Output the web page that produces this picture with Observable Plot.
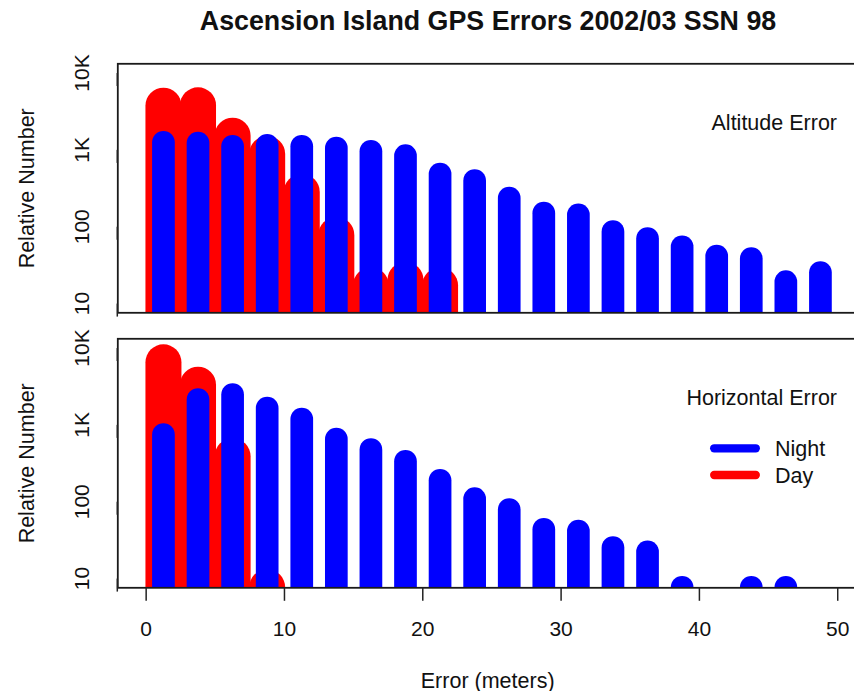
<!DOCTYPE html>
<html>
<head>
<meta charset="utf-8">
<script src="https://cdn.jsdelivr.net/npm/d3@7"></script>
<script src="https://cdn.jsdelivr.net/npm/@observablehq/plot@0.6"></script>
<style>
  html, body { margin: 0; padding: 0; background: #fff; }
  #chart {
    position: relative; width: 854px; height: 691px; overflow: hidden;
    font-family: "Liberation Sans", Arial, Helvetica, sans-serif; color: #111;
  }
  #chart svg { max-width: none !important; }
  .panel { position: absolute; left: 0; }
  #title {
    position: absolute; left: 0; width: 976px; top: 8px; text-align: center;
    font-weight: bold; font-size: 26.8px; line-height: 26.8px; white-space: nowrap;
  }
  #legend { position: absolute; left: 700px; top: 430px; }
</style>
</head>
<body>
<div id="chart"></div>
<script>
// Error bins (meters): centre of each 2.5 m bin
const binCenters = [1.25, 3.75, 6.25, 8.75, 11.25, 13.75, 16.25, 18.75, 21.25, 23.75,
                    26.25, 28.75, 31.25, 33.75, 36.25, 38.75, 41.25, 43.75, 46.25, 48.75];

// Relative number of fixes per bin (0 = empty bin)
const altitudeNight   = [1234, 1209, 1095, 1128, 1095, 1040, 943, 828, 477, 392,
                         233, 148, 141, 85, 69, 54, 41, 38, 19, 25];
const altitudeDay     = [3700, 3750, 1507, 871, 279, 77, 17, 20, 17, 0,
                         0, 0, 0, 0, 0, 0, 0, 0, 0, 0];
const horizontalNight = [735, 2098, 2437, 1632, 1173, 644, 469, 330, 187, 108,
                         78, 43, 41, 25, 22, 5, 0, 5, 5, 0];
const horizontalDay   = [6423, 3283, 384, 5, 0, 0, 0, 0, 0, 0,
                         0, 0, 0, 0, 0, 0, 0, 0, 0, 0];

const xTicks = [0, 10, 20, 30, 40, 50];
const yTicks = [10, 100, 1000, 10000];
const yTickLabels = ["10", "100", "1K", "10K"];

const seriesNames = ["Night", "Day"];
const seriesColors = ["#0000ff", "#ff0000"];

const FONT = '"Liberation Sans", Arial, Helvetica, sans-serif';
const xDomain = [-2.05, 51.43];
const yDomain = [Math.pow(10, 0.88), Math.pow(10, 4.12)];

function rows(values) {
  return binCenters.map((x, i) => ({x, value: values[i]})).filter(d => d.value > 0);
}

function panel({night, day, label, showX, height, marginTop, marginBottom}) {
  const marks = [
    // day bars (wider, underneath), then night bars on top; drawn up from the panel floor
    Plot.ruleX(rows(day), {x: "x", y1: yDomain[0], y2: "value", stroke: seriesColors[1],
      strokeWidth: 36, strokeLinecap: "round", clip: true}),
    Plot.ruleX(rows(night), {x: "x", y1: yDomain[0], y2: "value", stroke: seriesColors[0],
      strokeWidth: 22.7, strokeLinecap: "round", clip: true}),
    Plot.frame({stroke: "#1a1a1a", strokeWidth: 1.8}),
    Plot.axisY(yTicks, {
      tickSize: 13, tickPadding: 16, strokeWidth: 1.5, stroke: "#222",
      tickFormat: d => yTickLabels[yTicks.indexOf(d)],
      rotate: -90, textAnchor: "middle", lineAnchor: "bottom",
      fontSize: 21, label: null
    }),
    Plot.text([label], {frameAnchor: "top-right", dx: -20.5, dy: 65.7,
      textAnchor: "end", lineAnchor: "bottom", fontSize: 21.5, fill: "#111"}),
    Plot.text(["Relative Number"], {frameAnchor: "left", dx: -84, rotate: -90,
      textAnchor: "middle", lineAnchor: "bottom", fontSize: 21.5, fill: "#111"})
  ];
  if (showX) {
    marks.push(
      Plot.axisX(xTicks, {tickSize: 13.5, tickPadding: 19.5, strokeWidth: 1.5, stroke: "#222",
        fontSize: 21, label: null}),
      Plot.text(["Error (meters)"], {frameAnchor: "bottom", dy: 99.7, lineAnchor: "bottom",
        fontSize: 21.5, fill: "#111"})
    );
  }
  return Plot.plot({
    width: 870, height, marginLeft: 117.3, marginRight: 13, marginTop, marginBottom,
    x: {domain: xDomain, label: null, axis: showX ? undefined : null},
    y: {type: "log", domain: yDomain, label: null},
    style: {background: "none", fontFamily: FONT, fontSize: "21px", color: "#111", overflow: "visible"},
    marks
  });
}

const chart = document.getElementById("chart");

const altitudePanel = panel({night: altitudeNight, day: altitudeDay, label: "Altitude Error",
  showX: false, height: 320, marginTop: 63.3, marginBottom: 7.7});
altitudePanel.classList.add("panel"); altitudePanel.style.top = "0px";
chart.appendChild(altitudePanel);

const horizontalPanel = panel({night: horizontalNight, day: horizontalDay, label: "Horizontal Error",
  showX: true, height: 371, marginTop: 18.3, marginBottom: 103.7});
horizontalPanel.classList.add("panel"); horizontalPanel.style.top = "320px";
chart.appendChild(horizontalPanel);

const titleDiv = document.createElement("div");
titleDiv.id = "title";
titleDiv.textContent = "Ascension Island GPS Errors 2002/03 SSN 98";
chart.appendChild(titleDiv);

// legend: thick line swatches with series names
const legend = d3.create("svg").attr("id", "legend").attr("width", 150).attr("height", 62);
const item = legend.selectAll("g").data(seriesNames).join("g")
  .attr("transform", (d, i) => `translate(0,${18.3 + i * 26.7})`);
item.append("line").attr("x1", 14.2).attr("x2", 55.8).attr("y1", 0).attr("y2", 0)
  .attr("stroke", (d, i) => seriesColors[i]).attr("stroke-width", 8.3).attr("stroke-linecap", "round");
item.append("text").attr("x", 75).attr("y", 7.8).attr("font-size", 21.5)
  .attr("font-family", FONT).attr("fill", "#111").text(d => d);
chart.appendChild(legend.node());
</script>
</body>
</html>
